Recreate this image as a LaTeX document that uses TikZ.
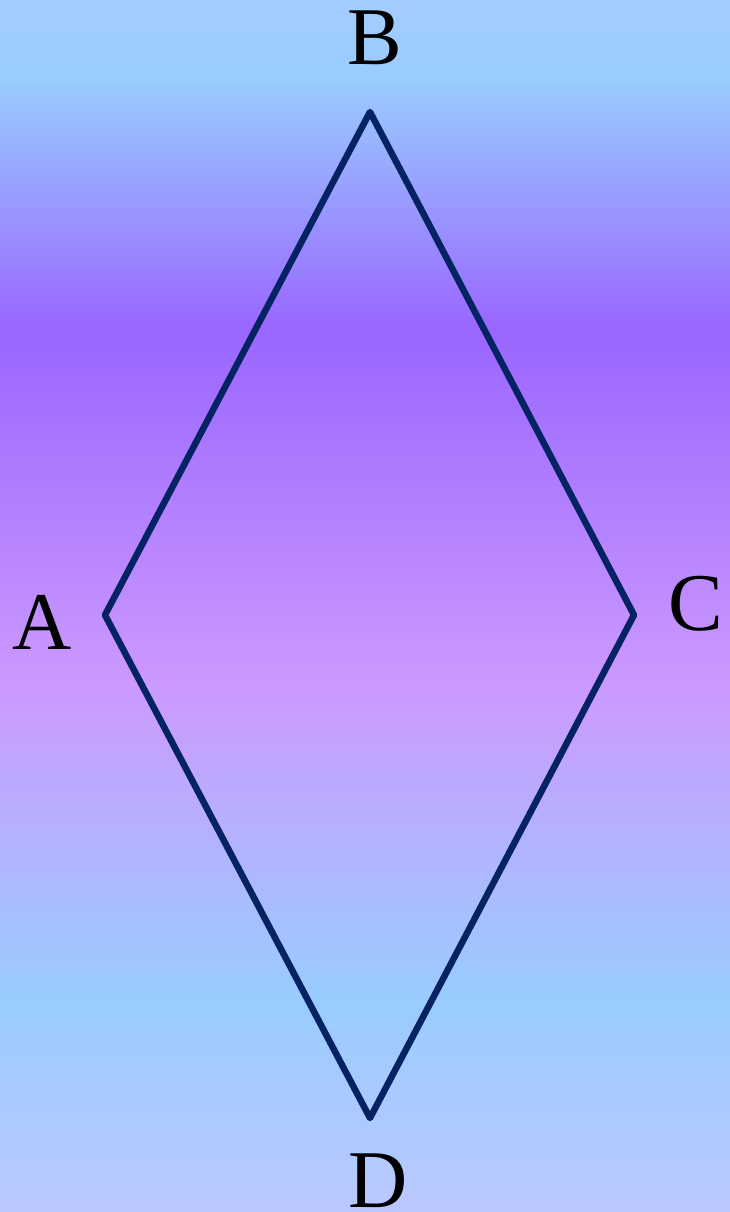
\documentclass[tikz,border=0pt]{standalone}
\usepackage{fontspec}
\setmainfont{Liberation Serif}
\definecolor{skyA}{HTML}{A4CCFF}
\definecolor{skyB}{HTML}{99CCFF}
\definecolor{violet}{HTML}{9966FF}
\definecolor{lilac}{HTML}{CC99FF}
\definecolor{skyC}{HTML}{BBC8FF}
\definecolor{navy}{HTML}{052263}
\tikzset{rhomb/.style={draw=navy, line width=6.5pt, line join=round},
  vlabel/.style={inner sep=0pt, font=\fontsize{82}{90}\selectfont}}
\begin{document}
\begin{tikzpicture}[x=1pt,y=-1pt]
\useasboundingbox (0,0) rectangle (730,1212);

% background bands
\shade [top color=skyA, bottom color=skyB] (0,0) rectangle (730,80);
\shade [top color=skyB, bottom color=violet] (0,80) rectangle (730,330);
\shade [top color=violet, bottom color=lilac] (0,330) rectangle (730,685);
\shade [top color=lilac, bottom color=skyB] (0,685) rectangle (730,1000);
\shade [top color=skyB, bottom color=skyC] (0,1000) rectangle (730,1212);

\coordinate (a) at (105,615);
\coordinate (b) at (370,112);
\coordinate (c) at (634,615);
\coordinate (d) at (370,1118);

\draw[rhomb] (a) -- (b) -- (c) -- (d) -- cycle;

\node[vlabel] (la) at (42,622) {A};
\node[vlabel] (lb) at (375,38) {B};
\node[vlabel] (lc) at (696,604) {C};
\node[vlabel] (ld) at (378,1181) {D};

\end{tikzpicture}
\end{document}
